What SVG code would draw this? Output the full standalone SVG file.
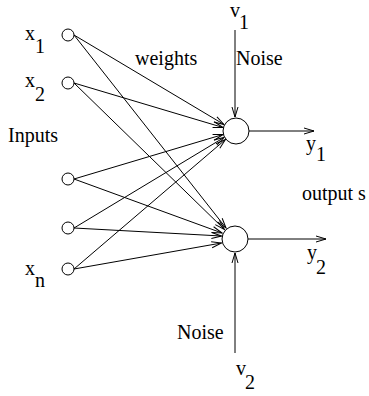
<svg xmlns="http://www.w3.org/2000/svg" width="369" height="396" viewBox="0 0 369 396">
<style>
  text { font-family: "Liberation Serif", "Times New Roman", serif; font-size: 20px; fill: #000; }
  .node { fill: #fff; stroke: #000; stroke-width: 1; }
  .edge { stroke: #000; stroke-width: 1; fill: none; marker-end: url(#arr); }
</style>
<defs>
  <marker id="arr" markerUnits="userSpaceOnUse" viewBox="-11 -5 12 10" refX="0" refY="0" markerWidth="12" markerHeight="10" orient="auto">
    <path d="M-10,-3 L0,0 L-10,3" fill="none" stroke="#000" stroke-width="1"/>
  </marker>
</defs>
<rect width="369" height="396" fill="#fff"/>
<g id="connectors">
  <line class="edge" x1="74" y1="35" x2="224" y2="124.5"/>
  <line class="edge" x1="74" y1="83" x2="223" y2="127.5"/>
  <line class="edge" x1="74" y1="179" x2="223" y2="134.5"/>
  <line class="edge" x1="74" y1="228" x2="224" y2="137.5"/>
  <line class="edge" x1="74" y1="269" x2="225.5" y2="139.5"/>
  <line class="edge" x1="74" y1="35" x2="226" y2="228"/>
  <line class="edge" x1="74" y1="83" x2="224.5" y2="229.5"/>
  <line class="edge" x1="74" y1="179" x2="222" y2="233"/>
  <line class="edge" x1="74" y1="228" x2="221.5" y2="236"/>
  <line class="edge" x1="74" y1="269" x2="221.5" y2="243"/>
  <line class="edge" x1="235" y1="30" x2="235" y2="117"/>
  <line class="edge" x1="235" y1="353" x2="235" y2="253"/>
  <line class="edge" x1="249" y1="131" x2="314" y2="131"/>
  <line class="edge" x1="248" y1="239" x2="326" y2="239"/>
</g>
<g id="in1"><circle class="node" cx="68" cy="35" r="6"/><text x="25" y="40">x</text><text x="35" y="53">1</text></g>
<g id="in2"><circle class="node" cx="68" cy="83" r="6"/><text x="25" y="87">x</text><text x="35" y="101">2</text></g>
<g id="in3"><circle class="node" cx="68" cy="179" r="6"/></g>
<g id="in4"><circle class="node" cx="68" cy="228" r="6"/></g>
<g id="in5"><circle class="node" cx="68" cy="269" r="6"/><text x="25" y="275">x</text><text x="35" y="287">n</text></g>
<g id="out1"><circle class="node" cx="236" cy="131" r="13"/></g>
<g id="out2"><circle class="node" cx="235" cy="239" r="13"/></g>
<g id="labels">
  <text x="8" y="142">Inputs</text>
  <text x="135" y="65">weights</text>
  <text x="236" y="65">Noise</text>
  <text x="230" y="17">v</text><text x="239" y="29">1</text>
  <text x="306" y="150">y</text><text x="316" y="161">1</text>
  <text x="302" y="200">output s</text>
  <text x="307" y="259">y</text><text x="316" y="274">2</text>
  <text x="177" y="339">Noise</text>
  <text x="236" y="375">v</text><text x="245" y="389">2</text>
</g>
</svg>
